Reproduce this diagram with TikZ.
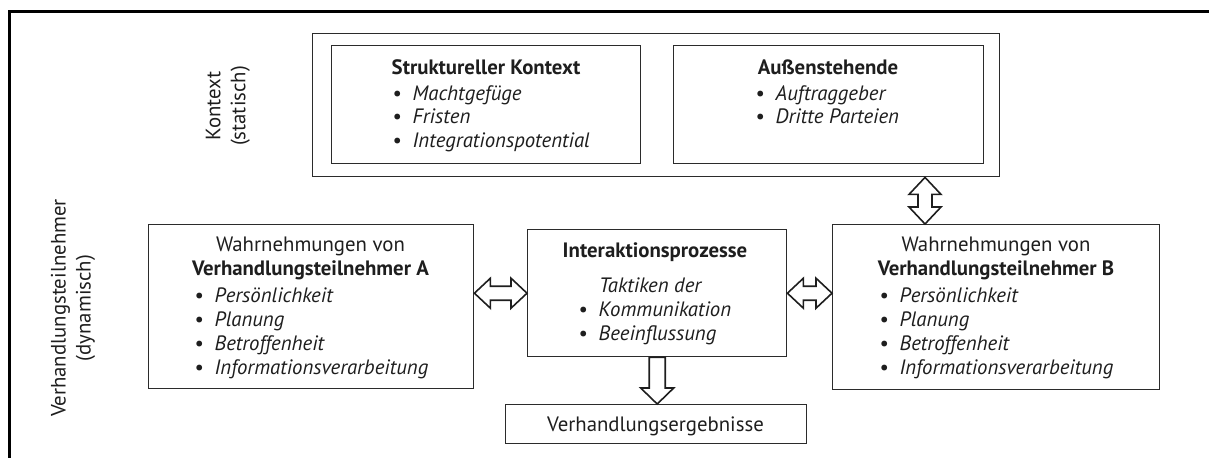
\documentclass[tikz,border=0pt]{standalone}
\usepackage{fontspec}
\setmainfont{PT Sans}
\usetikzlibrary{calc}
\definecolor{boxline}{HTML}{2B2B2B}
\definecolor{ink}{HTML}{1E1E1E}
\newcommand\dfont{\fontsize{20.8}{25}\selectfont}
\newcommand\bul{\makebox[20.5pt][l]{\textbullet}}
\begin{document}
\begin{tikzpicture}[x=1pt,y=-1pt,
  box/.style={draw=boxline, line width=1.4pt, anchor=north west, inner sep=0pt},
  txt/.style={inner sep=0pt, anchor=base, font=\dfont, text=ink},
  item/.style={inner sep=0pt, anchor=base west, font=\dfont\itshape, text=ink},
  side/.style={inner sep=0pt, rotate=90, align=center, font=\dfont, text=ink},
  fat/.style={draw=ink, line width=1.6pt, line join=miter},
  hfat/.style={to path={let \p1=(\tikztostart), \p2=(\tikztotarget) in
    -- (\x1+16pt,\y1+15pt) -- (\x1+16pt,\y1+7pt) -- (\x2-16pt,\y2+7pt)
    -- (\x2-16pt,\y2+15pt) -- (\x2,\y2) -- (\x2-16pt,\y2-15pt)
    -- (\x2-16pt,\y2-7pt) -- (\x1+16pt,\y1-7pt) -- (\x1+16pt,\y1-15pt) -- cycle}},
  vfat/.style={to path={let \p1=(\tikztostart), \p2=(\tikztotarget) in
    -- (\x1+16pt,\y1-17pt) -- (\x1+7pt,\y1-17pt) -- (\x2+7pt,\y2+17pt)
    -- (\x2+16pt,\y2+17pt) -- (\x2,\y2) -- (\x2-16pt,\y2+17pt)
    -- (\x2-7pt,\y2+17pt) -- (\x1-7pt,\y1-17pt) -- (\x1-16pt,\y1-17pt) -- cycle}},
  dfat/.style={to path={let \p1=(\tikztostart), \p2=(\tikztotarget) in
    -- (\x1+8pt,\y1) -- (\x2+8pt,\y2+16pt) -- (\x2+16.5pt,\y2+16pt) -- (\x2,\y2)
    -- (\x2-16.5pt,\y2+16pt) -- (\x2-8pt,\y2+16pt) -- (\x1-8pt,\y1) -- cycle}}
]
\useasboundingbox (0,0) rectangle (1209,458);

% open frame: top and left edge
\draw[line width=3pt, black] (1209,11) -- (9,11) -- (9,458);

% side labels
\node[side] (lblctx) at (228,106) {Kontext\\(statisch)};
\node[side] (lbldyn) at (73,308) {Verhandlungsteilnehmer\\(dynamisch)};

% context group
\node[box, minimum width=687pt, minimum height=143pt] (ctx) at (312,33) {};
\node[box, minimum width=309pt, minimum height=118pt] (struct) at (331,45) {};
\node[box, minimum width=310pt, minimum height=118pt] (aussen) at (673,45) {};

\node[txt, font=\dfont\bfseries] (structT) at (486,74) {Struktureller Kontext};
\node[item] (struct1) at (392,100) {\bul Machtgefüge};
\node[item] (struct2) at (392,123.5) {\bul Fristen};
\node[item] (struct3) at (392,147) {\bul Integrationspotential};

\node[txt, font=\dfont\bfseries] (aussenT) at (828,74) {Außenstehende};
\node[item] (aussen1) at (755,100) {\bul Auftraggeber};
\node[item] (aussen2) at (755,123.5) {\bul Dritte Parteien};

% participants and interaction
\node[box, minimum width=325pt, minimum height=164pt] (A) at (148,224) {};
\node[box, minimum width=327pt, minimum height=165pt] (B) at (832,224) {};
\node[box, minimum width=259pt, minimum height=127pt] (I) at (527,229) {};
\node[box, minimum width=301pt, minimum height=39pt] (E) at (505,404) {};

\node[txt] (AT1) at (310.5,251) {Wahrnehmungen von};
\node[txt, font=\dfont\bfseries] (AT2) at (310.5,275) {Verhandlungsteilnehmer A};
\node[item] (A1) at (194,302) {\bul Persönlichkeit};
\node[item] (A2) at (194,326) {\bul Planung};
\node[item] (A3) at (194,350) {\bul Betroffenheit};
\node[item] (A4) at (194,374) {\bul Informationsverarbeitung};

\node[txt] (BT1) at (996,251) {Wahrnehmungen von};
\node[txt, font=\dfont\bfseries] (BT2) at (996,275) {Verhandlungsteilnehmer B};
\node[item] (B1) at (879,302) {\bul Persönlichkeit};
\node[item] (B2) at (879,326) {\bul Planung};
\node[item] (B3) at (879,350) {\bul Betroffenheit};
\node[item] (B4) at (879,374) {\bul Informationsverarbeitung};

\node[txt, font=\dfont\bfseries] (IT) at (655,257) {Interaktionsprozesse};
\node[item] (I0) at (599,292) {Taktiken der};
\node[item] (I1) at (578,316) {\bul Kommunikation};
\node[item] (I2) at (578,340) {\bul Beeinflussung};

\node[txt] (ET) at (655.5,431) {Verhandlungsergebnisse};

% connectors
\coordinate (vx) at (925,0);
\draw[fat] (A.east |- I.west) to[hfat] (I.west);
\draw[fat] (I.east) to[hfat] (B.west |- I.east);
\draw[fat] (vx |- ctx.south) to[vfat] (vx |- B.north);
\draw[fat] (I.south) to[dfat] (I.south |- E.north);
\end{tikzpicture}
\end{document}
